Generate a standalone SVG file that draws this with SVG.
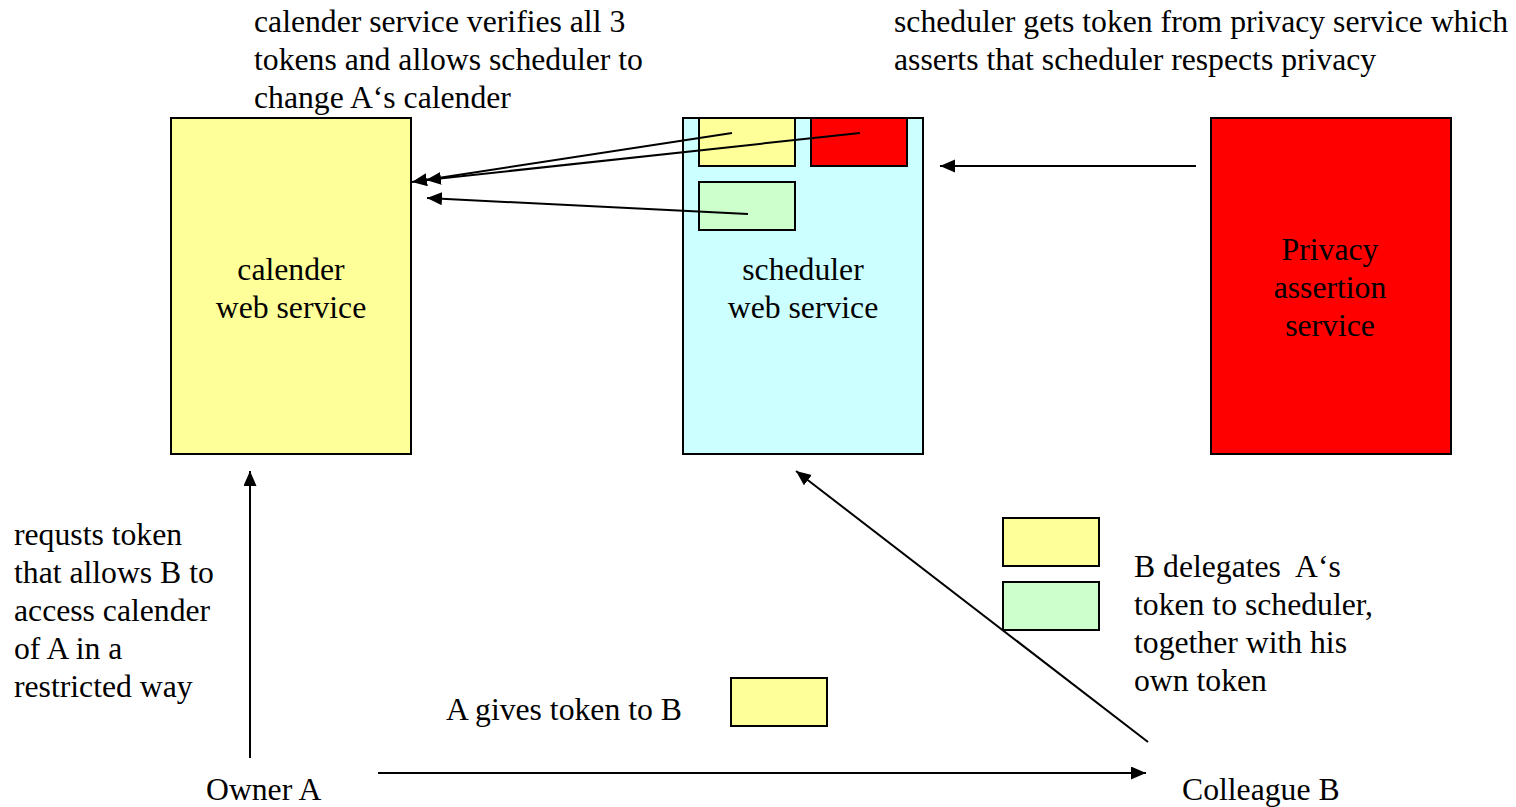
<svg xmlns="http://www.w3.org/2000/svg" width="1516" height="807" viewBox="0 0 1516 807">
<defs>
<marker id="ah" markerUnits="userSpaceOnUse" markerWidth="16" markerHeight="14" refX="15" refY="6.5" orient="auto">
<path d="M0,0 L15,6.5 L0,13 z" fill="#000"/>
</marker>
<style>
text{font-family:"Liberation Serif","Times New Roman",serif;font-size:31.7px;fill:#000}
.c{text-anchor:middle}
.box{stroke:#000;stroke-width:2}
.con{stroke:#000;stroke-width:2;fill:none;marker-end:url(#ah)}
</style>
</defs>
<rect width="1516" height="807" fill="#fff"/>

<g id="calendar-service">
<rect class="box" x="171" y="118" width="240" height="336" fill="#FFFF99"/>
<text class="c" x="291" y="280">calender</text>
<text class="c" x="291" y="318">web service</text>
</g>

<g id="scheduler-service">
<rect class="box" x="683" y="118" width="240" height="336" fill="#CCFFFF"/>
<text class="c" x="803" y="280">scheduler</text>
<text class="c" x="803" y="318">web service</text>
</g>

<g id="scheduler-token-yellow"><rect class="box" x="699" y="118" width="96" height="48" fill="#FFFF99"/></g>
<g id="scheduler-token-red"><rect class="box" x="811" y="118" width="96" height="48" fill="#FF0000"/></g>
<g id="scheduler-token-green"><rect class="box" x="699" y="182" width="96" height="48" fill="#CCFFCC"/></g>

<g id="privacy-service">
<rect class="box" x="1211" y="118" width="240" height="336" fill="#FF0000"/>
<text class="c" x="1330" y="260">Privacy</text>
<text class="c" x="1330" y="298">assertion</text>
<text class="c" x="1330" y="336">service</text>
</g>

<g id="b-token-yellow"><rect class="box" x="1003" y="518" width="96" height="48" fill="#FFFF99"/></g>
<g id="b-token-green"><rect class="box" x="1003" y="582" width="96" height="48" fill="#CCFFCC"/></g>
<g id="a-token-yellow"><rect class="box" x="731" y="678" width="96" height="48" fill="#FFFF99"/></g>

<g id="owner-a"><text x="206" y="800">Owner A</text></g>
<g id="colleague-b"><text x="1182" y="800">Colleague B</text></g>

<g id="labels">
<text x="254" y="32">calender service verifies all 3</text>
<text x="254" y="70">tokens and allows scheduler to</text>
<text x="254" y="108">change A‘s calender</text>
<text x="894" y="32">scheduler gets token from privacy service which</text>
<text x="894" y="70">asserts that scheduler respects privacy</text>
<text x="14" y="545">requsts token</text>
<text x="14" y="583">that allows B to</text>
<text x="14" y="621">access calender</text>
<text x="14" y="659">of A in a</text>
<text x="14" y="697">restricted way</text>
<text x="446" y="720">A gives token to B</text>
<text x="1134" y="577" xml:space="preserve">B delegates  A‘s</text>
<text x="1134" y="615">token to scheduler,</text>
<text x="1134" y="653">together with his</text>
<text x="1134" y="691">own token</text>
</g>

<g id="connectors">
<line class="con" x1="732" y1="133" x2="412" y2="182"/>
<line class="con" x1="860" y1="133" x2="426" y2="180"/>
<line class="con" x1="748" y1="214" x2="427" y2="198"/>
<line class="con" x1="1196" y1="166" x2="940" y2="166"/>
<line class="con" x1="250" y1="758" x2="250" y2="471"/>
<line class="con" x1="378" y1="773" x2="1146" y2="773"/>
<line class="con" x1="1148" y1="742" x2="796" y2="471"/>
</g>
</svg>
